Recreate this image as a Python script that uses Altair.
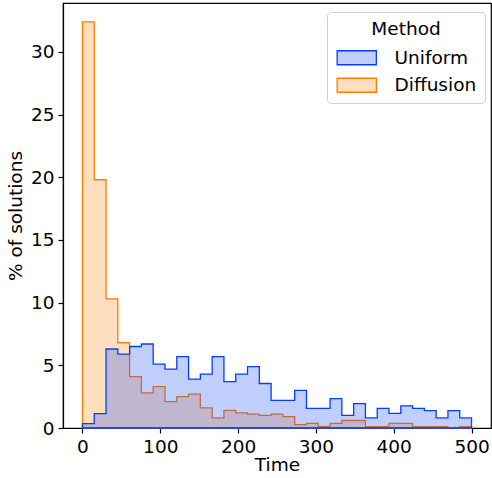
import altair as alt
import numpy as np
import pandas as pd

methods = ["Uniform", "Diffusion"]
colors = ["#023eff", "#ff7c00"]
fill_colors = ["rgba(2,62,255,0.25)", "rgba(255,124,0,0.25)"]
n_bins = 33
t_min, t_max = 0, 500

uniform_pct = [0.35, 1.15, 6.3, 5.9, 6.5, 6.7, 5.1, 4.7, 5.7, 3.9, 4.3, 5.7, 3.7,
               4.3, 4.9, 3.55, 2.2, 2.2, 3.0, 1.57, 1.57, 2.35, 1.0, 1.95, 0.8,
               1.57, 1.17, 1.76, 1.57, 1.39, 0.8, 1.39, 0.8]
diffusion_pct = [32.4, 19.8, 10.3, 6.8, 4.1, 2.8, 3.3, 2.1, 2.5, 2.7, 1.6, 0.8, 1.4,
                 1.2, 1.1, 1.0, 1.1, 0.9, 0.27, 0.37, 0.1, 0.37, 0.6, 0.6, 0.1,
                 0.1, 0.37, 0.37, 0.1, 0.1, 0.1, 0.0, 0.1]

x_ticks = [0, 100, 200, 300, 400, 500]
y_ticks = [0, 5, 10, 15, 20, 25, 30]

edges = np.linspace(t_min, t_max, n_bins + 1)


def frame(name, vals):
    return pd.DataFrame({"Time": edges, "pct": list(vals) + [vals[-1]], "Method": name})


FONT = "DejaVu Sans"
FS = 18.5

x_enc = alt.X("Time:Q", scale=alt.Scale(domain=[-25, 525], nice=False, zero=False),
              axis=alt.Axis(values=x_ticks, title="Time", grid=False))
y_enc = alt.Y("pct:Q", scale=alt.Scale(domain=[0, 33.9], nice=False),
              axis=alt.Axis(values=y_ticks, title="% of solutions", grid=False))

sym_path = "M-2.8,-1L2.8,-1L2.8,1L-2.8,1Z"


def make_legend():
    return alt.Legend(
        title="Method",
        orient="none",
        legendX=264,
        legendY=9,
        symbolType=sym_path,
        symbolSize=196,
        symbolOffset=12.5,
        symbolStrokeWidth=1.3,
        symbolOpacity=1,
        labelOffset=28.5,
        titleFontSize=FS,
        titleFont=FONT,
        titleFontWeight="normal",
        titleColor="black",
        labelFontSize=FS,
        labelFont=FONT,
        labelColor="black",
    )


fill_enc = alt.Fill("Method:N", scale=alt.Scale(domain=methods, range=fill_colors),
                    legend=make_legend())
stroke_enc = alt.Stroke("Method:N", scale=alt.Scale(domain=methods, range=colors),
                        legend=make_legend())


def layer(name, vals):
    return alt.Chart(frame(name, vals)).mark_area(
        interpolate="step-after", fillOpacity=1, strokeWidth=1.3, strokeOpacity=1
    ).encode(x=x_enc, y=y_enc, fill=fill_enc, stroke=stroke_enc)


chart = alt.layer(
    layer("Diffusion", diffusion_pct),
    layer("Uniform", uniform_pct),
).properties(
    width=428, height=425,
    autosize=alt.AutoSizeParams(type="none"),
    padding={"left": 63, "top": 3, "right": 1, "bottom": 50},
    background="white",
).configure_view(
    stroke="black", strokeWidth=1.2
).configure_axis(
    labelFont=FONT, labelFontSize=FS, labelColor="black",
    titleFont=FONT, titleFontSize=FS, titleColor="black", titleFontWeight="normal",
    domainColor="black", tickColor="black", tickSize=5, labelPadding=4,
    domainWidth=1.2, tickWidth=1.2,
).configure_axisX(
    titlePadding=0,
).configure_axisY(
    titlePadding=5,
).configure_legend(
    titleAnchor="middle", titleAlign="center",
    strokeColor="#d0d0d0", fillColor="white", cornerRadius=4,
    padding=8, rowPadding=7.5, titlePadding=10,
)

chart.save("out.html", embed_options={"renderer": "svg", "actions": False})
